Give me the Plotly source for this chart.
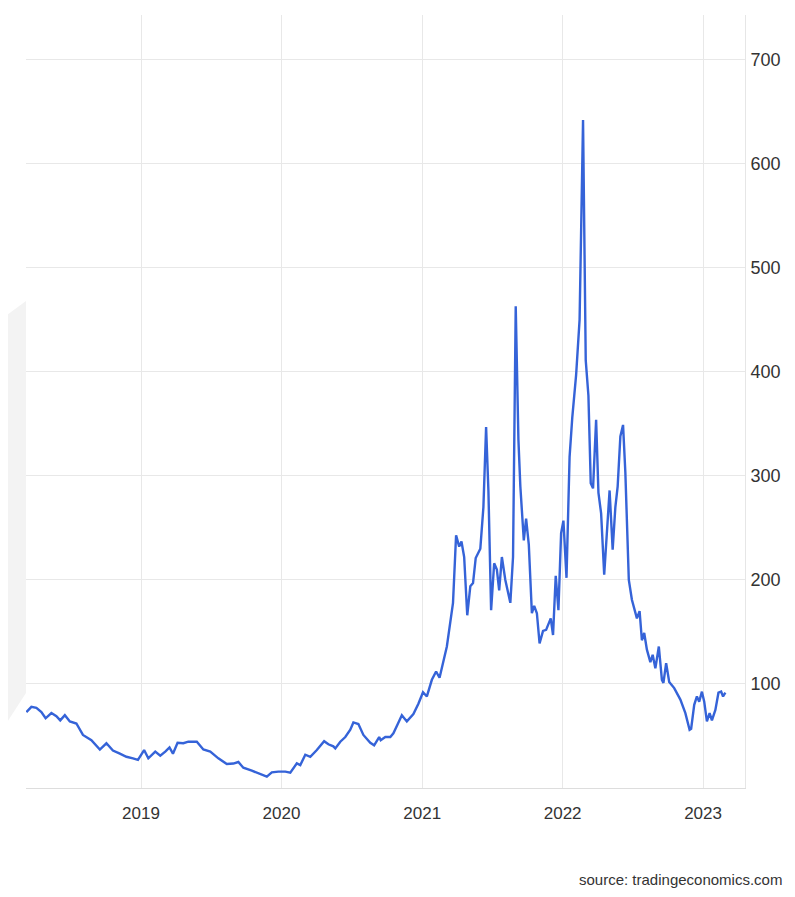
import plotly.graph_objects as go

dates = [
    "2018-03-09", "2018-03-22", "2018-04-04", "2018-04-17", "2018-04-28", "2018-05-13",
    "2018-05-26", "2018-06-05", "2018-06-17", "2018-06-30", "2018-07-17", "2018-08-03",
    "2018-08-25", "2018-09-16", "2018-10-03", "2018-10-20", "2018-11-07", "2018-11-24",
    "2018-12-11", "2018-12-24", "2019-01-09", "2019-01-20", "2019-02-07", "2019-02-20",
    "2019-03-05", "2019-03-16", "2019-03-25", "2019-04-06", "2019-04-21", "2019-05-04",
    "2019-05-26", "2019-06-12", "2019-06-30", "2019-07-21", "2019-08-12", "2019-08-29",
    "2019-09-11", "2019-09-24", "2019-10-16", "2019-11-02", "2019-11-24", "2019-12-07",
    "2019-12-24", "2020-01-11", "2020-01-24", "2020-02-10", "2020-02-19", "2020-03-03",
    "2020-03-16", "2020-04-02", "2020-04-21", "2020-05-02", "2020-05-15", "2020-05-20",
    "2020-06-02", "2020-06-15", "2020-06-28", "2020-07-06", "2020-07-19", "2020-08-01",
    "2020-08-19", "2020-08-29", "2020-09-11", "2020-09-15", "2020-09-27", "2020-10-10",
    "2020-10-18", "2020-10-30", "2020-11-09", "2020-11-22", "2020-12-09", "2020-12-22",
    "2021-01-03", "2021-01-13", "2021-01-26", "2021-02-06", "2021-02-15", "2021-03-06",
    "2021-03-22", "2021-03-30", "2021-04-07", "2021-04-13", "2021-04-20", "2021-04-28",
    "2021-05-06", "2021-05-13", "2021-05-20", "2021-06-01", "2021-06-09", "2021-06-16",
    "2021-06-22", "2021-06-29", "2021-07-07", "2021-07-14", "2021-07-20", "2021-07-27",
    "2021-08-05", "2021-08-18", "2021-08-25", "2021-09-01", "2021-09-08", "2021-09-13",
    "2021-09-22", "2021-09-28", "2021-10-05", "2021-10-13", "2021-10-19", "2021-10-26",
    "2021-11-02", "2021-11-11", "2021-11-19", "2021-12-01", "2021-12-07", "2021-12-14",
    "2021-12-21", "2021-12-28", "2022-01-03", "2022-01-11", "2022-01-19", "2022-01-26",
    "2022-02-05", "2022-02-14", "2022-02-23", "2022-03-02", "2022-03-09", "2022-03-15",
    "2022-03-21", "2022-03-29", "2022-04-04", "2022-04-11", "2022-04-19", "2022-05-03",
    "2022-05-11", "2022-05-18", "2022-05-24", "2022-05-31", "2022-06-07", "2022-06-13",
    "2022-06-22", "2022-06-30", "2022-07-09", "2022-07-13", "2022-07-20", "2022-07-26",
    "2022-08-01", "2022-08-08", "2022-08-17", "2022-08-23", "2022-08-30", "2022-09-08",
    "2022-09-16", "2022-09-20", "2022-09-27", "2022-10-05", "2022-10-18", "2022-11-03",
    "2022-11-16", "2022-11-27", "2022-12-01", "2022-12-09", "2022-12-16", "2022-12-22",
    "2022-12-29", "2023-01-04", "2023-01-11", "2023-01-18", "2023-01-24", "2023-02-02",
    "2023-02-10", "2023-02-17", "2023-02-22", "2023-02-28",
]

values = [
    73, 78, 77, 73, 67, 72,
    69, 65, 70, 64, 62, 51,
    46, 37, 43, 36, 33, 30,
    28.5, 27, 36.5, 28.5, 35, 31,
    35, 39, 33, 43.5, 43, 44.5,
    44.5, 37, 35, 28.5, 23, 23.5,
    25, 19.5, 16.6, 14, 11, 15,
    15.7, 15.7, 14.7, 23.7, 22, 32,
    30, 36.5, 45, 42, 40, 38,
    44.5, 49, 56, 63, 61.5, 51,
    43.5, 41, 49, 46, 49, 49,
    52.5, 62, 70, 64, 71, 81,
    92, 88, 104, 112, 106, 136,
    178, 243, 232, 237, 222, 166,
    194, 197, 221, 230, 270, 347,
    286, 171, 216, 210, 190, 222,
    200, 178, 222, 463, 335, 290,
    238, 259, 234, 168, 175, 168,
    139, 151, 152, 163, 147, 204,
    171, 245, 257, 202, 318, 356,
    397, 450, 642, 411, 377, 293,
    288, 354, 284, 264, 205, 286,
    229, 270, 290, 338, 349, 303,
    200, 181, 168, 163, 170, 142,
    149, 133, 121, 128, 115, 136,
    104, 101, 120, 102, 96, 85,
    72, 56, 57, 80, 88, 83,
    92.6, 83, 64, 72, 65, 75,
    91.6, 92.6, 88, 91.6,
]

year_ticks = ["2019-01-01", "2020-01-01", "2021-01-01", "2022-01-01", "2023-01-01"]
year_labels = ["2019", "2020", "2021", "2022", "2023"]
y_ticks = [100, 200, 300, 400, 500, 600, 700]

FONT = "Liberation Sans, Arial, sans-serif"
GRID = "#e8e8e8"

fig = go.Figure()
fig.add_trace(go.Scatter(
    x=dates, y=values, mode="lines",
    line=dict(color="#3563d8", width=2.4),
    hoverinfo="x+y", showlegend=False,
))

fig.update_layout(
    width=787, height=889,
    margin=dict(l=18, r=50, t=7, b=109),
    paper_bgcolor="white", plot_bgcolor="white",
    font=dict(family=FONT, size=17, color="#333333"),
    xaxis=dict(
        range=["2018-03-08", "2023-04-20"],
        tickvals=year_ticks, ticktext=year_labels,
        showgrid=True, gridcolor=GRID, gridwidth=1,
        showline=True, linecolor="#dddddd", linewidth=1,
        ticks="", ticklabelstandoff=10, zeroline=False,
        tickfont=dict(family=FONT, size=17, color="#333333"),
    ),
    yaxis=dict(
        range=[0, 743], side="right",
        tickvals=y_ticks,
        showgrid=True, gridcolor=GRID, gridwidth=1,
        showline=True, linecolor="#e6e6e6", linewidth=1,
        ticks="", ticklabelstandoff=1, zeroline=False,
        tickfont=dict(family=FONT, size=18, color="#333333"),
    ),
    shapes=[dict(
        type="path", xref="paper", yref="paper", layer="below",
        path="M -0.0362 0.605 L 0 0.63 L 0 0.123 L -0.0362 0.071 Z",
        fillcolor="#f3f3f3", line=dict(width=0),
    )],
    annotations=[dict(
        text="source: tradingeconomics.com", xref="paper", yref="paper",
        x=1.054, y=-0.119, xanchor="right", yanchor="middle", showarrow=False,
        font=dict(family=FONT, size=15, color="#333333"),
    )],
)

fig.write_html("out.html")
